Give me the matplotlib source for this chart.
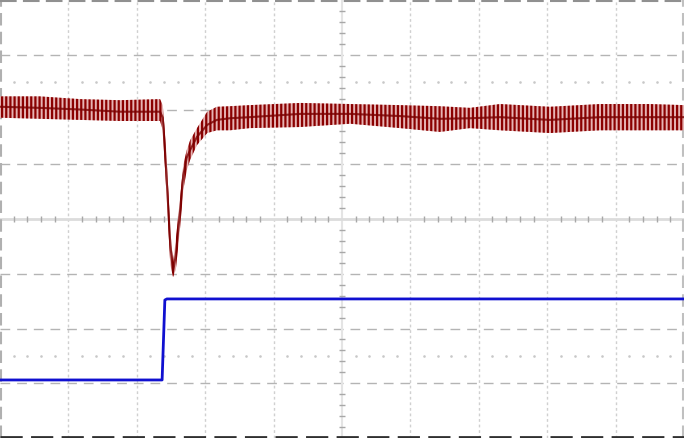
import numpy as np
import matplotlib
matplotlib.use('Agg')
import matplotlib.pyplot as plt

# scope screen: 10 x 8 divisions, values in divisions
# channel 1 (red) - knots of mean and ripple envelope
t1 = [0.0, 0.58, 1.17, 1.75, 2.34, 2.38, 2.43, 2.49, 2.53, 2.57, 2.63, 2.68, 2.73, 2.78,
      2.88, 3.03, 3.17, 3.36, 3.65, 4.39, 5.12, 5.85, 6.43, 6.87, 7.31, 8.04, 8.77, 9.50, 10.0]
ch1_top = [2.24, 2.24, 2.19, 2.17, 2.19, 2.08, 1.26, -0.20, -0.79, -0.38, 0.35, 0.99, 1.26, 1.44,
           1.66, 1.96, 2.05, 2.06, 2.08, 2.12, 2.10, 2.08, 2.06, 2.03, 2.10, 2.05, 2.10, 2.10, 2.08]
ch1_bot = [1.85, 1.83, 1.81, 1.79, 1.79, 1.62, 0.53, -0.84, -1.06, -0.93, -0.20, 0.53, 0.89, 1.08,
           1.35, 1.57, 1.62, 1.62, 1.66, 1.68, 1.74, 1.66, 1.59, 1.66, 1.62, 1.57, 1.62, 1.62, 1.62]
ch1_mid = [2.05, 2.03, 2.00, 1.96, 1.96, 1.85, 0.89, -0.47, -0.97, -0.66, 0.11, 0.80, 1.12, 1.26,
           1.50, 1.72, 1.81, 1.84, 1.86, 1.92, 1.92, 1.88, 1.83, 1.84, 1.86, 1.81, 1.86, 1.86, 1.86]

# channel 2 (blue) - step
t2 = [0.0, 2.37, 2.38, 2.41, 2.44, 10.0]
ch2 = [-2.94, -2.94, -2.58, -1.48, -1.46, -1.46]

plt.rcParams['hatch.linewidth'] = 1.6
fig = plt.figure(figsize=(6.84, 4.38), dpi=100)
ax = fig.add_axes([0, 0, 1, 1])
ax.set_xlim(0, 10)
ax.set_ylim(-4, 4)
ax.axis('off')

# graticule
for i in range(1, 10):
    if i != 5:
        ax.axvline(i, color='#d0d0d0', lw=1, ls=(0, (2, 2)), zorder=0)
for j in range(-3, 4):
    if j != 0:
        ax.axhline(j, color='#b4b4b4', lw=1, ls=(0, (7, 5)), zorder=0)
ax.axvline(5, color='#e4e4e4', lw=1.5, zorder=0)
ax.axhline(0, color='#dcdcdc', lw=2, zorder=0)
ax.axvline(0.01, color='#b0b0b0', lw=1.5, ls=(0, (6, 3)), zorder=0)
ax.axvline(9.99, color='#c0c0c0', lw=1.5, ls=(0, (6, 3)), zorder=0)
ax.axhline(3.99, color='#909090', lw=1.5, ls=(0, (8, 3)), zorder=0)
ax.axhline(-3.99, color='#303030', lw=2, ls=(0, (8, 3)), zorder=0)

minor = np.arange(0.2, 10, 0.2)
minor = minor[np.abs(minor - np.round(minor)) > 0.05]
ax.plot(minor, np.zeros_like(minor), ls='none', marker='|', ms=4, color='#a8a8a8', zorder=0)
vminor = np.arange(-3.8, 4, 0.2)
vminor = vminor[np.abs(vminor - np.round(vminor)) > 0.05]
ax.plot(np.full_like(vminor, 5), vminor, ls='none', marker='_', ms=4, color='#a8a8a8', zorder=0)
for yy in (2.5, -2.5):
    ax.plot(minor, np.full_like(minor, yy), ls='none', marker='s', ms=0.8, color='#c8c8c8', zorder=0)

# traces
ax.fill_between(t1, ch1_bot, ch1_top, facecolor='#e6b4b4', edgecolor='#8a0000',
                hatch='||||', lw=0, zorder=2)
ax.plot(t1, ch1_mid, color='#7a0000', lw=1.5, alpha=0.8, zorder=3)
ax.plot(t2, ch2, color='#1010d0', lw=2, zorder=3)

fig.savefig('out.png', dpi=100)
